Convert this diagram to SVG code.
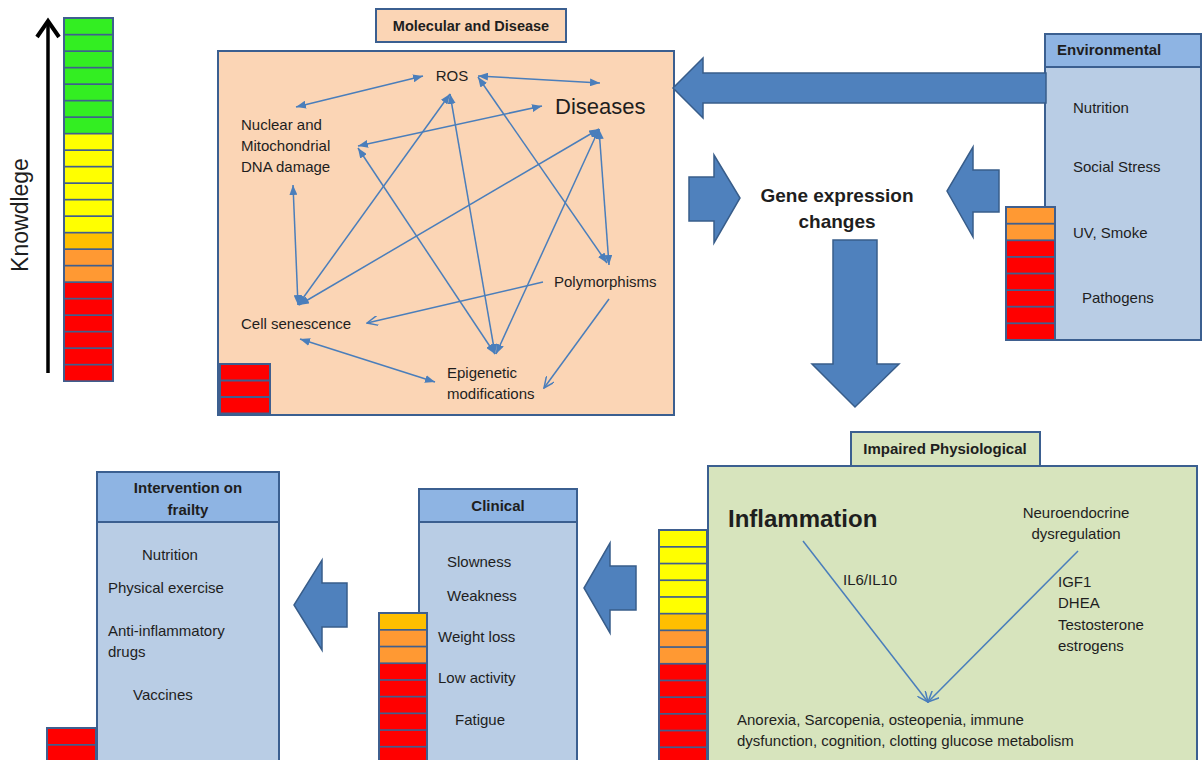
<svg xmlns="http://www.w3.org/2000/svg" width="1203" height="760" viewBox="0 0 1203 760">
<defs>
<style>
text{font-family:"Liberation Sans",Arial,sans-serif;fill:#1e1e1e;font-size:15px}
.b{font-weight:bold}
.c{text-anchor:middle}
.box{stroke:#3b5f90;stroke-width:2}
.peach{fill:#fbd5b5}
.hdr{fill:#8eb4e3}
.body{fill:#b9cde5}
.grn{fill:#d7e4bd}
.blk{fill:#4f81bd;stroke:#385d8a;stroke-width:1.5}
.con{stroke:#4a7ebb;stroke-width:1.5;fill:none}
.bar{fill:#3f5f8f}
.G{fill:#33ee22}.Y{fill:#ffff00}.O1{fill:#ffbf00}.O{fill:#ff9933}.R{fill:#ff0000}
</style>
<marker id="ah" viewBox="0 0 10 8" refX="10" refY="4" markerWidth="10" markerHeight="8" markerUnits="userSpaceOnUse" orient="auto-start-reverse"><path d="M0,0 L10,4 L0,8 z" fill="#4a7ebb"/></marker>
<marker id="oh" viewBox="0 0 12 10" refX="11" refY="5" markerWidth="12" markerHeight="10" markerUnits="userSpaceOnUse" orient="auto"><path d="M0,0 L11,5 L0,10" fill="none" stroke="#4a7ebb" stroke-width="1.5"/></marker>
</defs>

<g id="knowledge-scale">
<line x1="48" y1="373" x2="48" y2="24" stroke="#000" stroke-width="3.5"/>
<polyline points="37,37 48,21 59,37" fill="none" stroke="#000" stroke-width="4"/>
<text x="0" y="0" transform="translate(28,215) rotate(-90)" class="c" style="font-size:23px">Knowdlege</text>
<rect class="bar" x="63" y="17" width="51" height="365"/>
<g>
<rect class="G" x="65" y="19" width="47" height="14.8"/>
<rect class="G" x="65" y="35.5" width="47" height="14.8"/>
<rect class="G" x="65" y="52" width="47" height="14.8"/>
<rect class="G" x="65" y="68.5" width="47" height="14.8"/>
<rect class="G" x="65" y="85" width="47" height="14.8"/>
<rect class="G" x="65" y="101.5" width="47" height="14.8"/>
<rect class="G" x="65" y="118" width="47" height="14.8"/>
<rect class="Y" x="65" y="134.5" width="47" height="14.8"/>
<rect class="Y" x="65" y="151" width="47" height="14.8"/>
<rect class="Y" x="65" y="167.5" width="47" height="14.8"/>
<rect class="Y" x="65" y="184" width="47" height="14.8"/>
<rect class="Y" x="65" y="200.5" width="47" height="14.8"/>
<rect class="Y" x="65" y="217" width="47" height="14.8"/>
<rect class="O1" x="65" y="233.5" width="47" height="14.8"/>
<rect class="O" x="65" y="250" width="47" height="14.8"/>
<rect class="O" x="65" y="266.5" width="47" height="14.8"/>
<rect class="R" x="65" y="283" width="47" height="14.8"/>
<rect class="R" x="65" y="299.5" width="47" height="14.8"/>
<rect class="R" x="65" y="316" width="47" height="14.8"/>
<rect class="R" x="65" y="332.5" width="47" height="14.8"/>
<rect class="R" x="65" y="349" width="47" height="14.8"/>
<rect class="R" x="65" y="365.5" width="47" height="14.8"/>
</g>
</g>

<g id="molecular">
<rect class="box peach" x="376" y="9" width="190" height="33"/>
<text x="471" y="31" class="b c" style="font-size:14.5px">Molecular and Disease</text>
<rect class="box peach" x="218" y="51" width="456" height="364"/>
<rect class="bar" x="218" y="363" width="53" height="51"/>
<rect class="R" x="221" y="365" width="48" height="14.5"/>
<rect class="R" x="221" y="381.5" width="48" height="14.5"/>
<rect class="R" x="221" y="398" width="48" height="14.5"/>
</g>

<g id="node-ros"><text x="452" y="81" class="c">ROS</text></g>
<g id="node-diseases"><text x="555" y="114" style="font-size:22px">Diseases</text></g>
<g id="node-dna"><text x="241" y="130">Nuclear and</text><text x="241" y="151">Mitochondrial</text><text x="241" y="172">DNA damage</text></g>
<g id="node-polymorphisms"><text x="554" y="287">Polymorphisms</text></g>
<g id="node-cellsen"><text x="241" y="329">Cell senescence</text></g>
<g id="node-epigenetic"><text x="447" y="378">Epigenetic</text><text x="447" y="399">modifications</text></g>

<g id="gene-expression">
<text x="837" y="202" class="b c" style="font-size:19px">Gene expression</text>
<text x="837" y="228" class="b c" style="font-size:19px">changes</text>
</g>

<g id="environmental">
<rect class="box hdr" x="1045" y="34" width="156" height="33"/>
<text x="1057" y="55" class="b">Environmental</text>
<rect class="box body" x="1045" y="67" width="156" height="273"/>
<text x="1073" y="113">Nutrition</text>
<text x="1073" y="172">Social Stress</text>
<text x="1073" y="238">UV, Smoke</text>
<text x="1082" y="303">Pathogens</text>
<rect class="bar" x="1005" y="206" width="51" height="135"/>
<rect class="O" x="1007" y="208" width="47" height="14.8"/>
<rect class="O" x="1007" y="224.6" width="47" height="14.8"/>
<rect class="R" x="1007" y="241.2" width="47" height="14.8"/>
<rect class="R" x="1007" y="257.8" width="47" height="14.8"/>
<rect class="R" x="1007" y="274.4" width="47" height="14.8"/>
<rect class="R" x="1007" y="291" width="47" height="14.8"/>
<rect class="R" x="1007" y="307.6" width="47" height="14.8"/>
<rect class="R" x="1007" y="324.2" width="47" height="14.8"/>
</g>

<g id="impaired">
<rect class="box grn" x="851" y="432" width="189" height="34"/>
<text x="945" y="454" class="b c">Impaired Physiological</text>
<rect class="box grn" x="708" y="466" width="489" height="310"/>
<text x="728" y="527" class="b" style="font-size:24px">Inflammation</text>
<text x="1076" y="518" class="c">Neuroendocrine</text>
<text x="1076" y="539" class="c">dysregulation</text>
<text x="843" y="585">IL6/IL10</text>
<text x="1058" y="587">IGF1</text>
<text x="1058" y="608">DHEA</text>
<text x="1058" y="630">Testosterone</text>
<text x="1058" y="651">estrogens</text>
<text x="737" y="725">Anorexia, Sarcopenia, osteopenia,  immune</text>
<text x="737" y="746">dysfunction, cognition, clotting glucose metabolism</text>
<rect class="bar" x="658" y="529" width="50" height="240"/>
<rect class="Y" x="660" y="531" width="46" height="15"/>
<rect class="Y" x="660" y="547.7" width="46" height="15"/>
<rect class="Y" x="660" y="564.4" width="46" height="15"/>
<rect class="Y" x="660" y="581.1" width="46" height="15"/>
<rect class="Y" x="660" y="597.8" width="46" height="15"/>
<rect class="O1" x="660" y="614.5" width="46" height="15"/>
<rect class="O" x="660" y="631.2" width="46" height="15"/>
<rect class="O" x="660" y="647.9" width="46" height="15"/>
<rect class="R" x="660" y="664.6" width="46" height="15"/>
<rect class="R" x="660" y="681.3" width="46" height="15"/>
<rect class="R" x="660" y="698" width="46" height="15"/>
<rect class="R" x="660" y="714.7" width="46" height="15"/>
<rect class="R" x="660" y="731.4" width="46" height="15"/>
<rect class="R" x="660" y="748.1" width="46" height="15"/>
</g>

<g id="clinical">
<rect class="box hdr" x="419" y="489" width="158" height="33"/>
<text x="498" y="511" class="b c">Clinical</text>
<rect class="box body" x="419" y="522" width="158" height="250"/>
<text x="447" y="567">Slowness</text>
<text x="447" y="601">Weakness</text>
<text x="438" y="642">Weight loss</text>
<text x="438" y="683">Low activity</text>
<text x="455" y="725">Fatigue</text>
<rect class="bar" x="378" y="612" width="50" height="160"/>
<rect class="O1" x="380" y="614" width="46" height="15"/>
<rect class="O" x="380" y="630.7" width="46" height="15"/>
<rect class="O" x="380" y="647.4" width="46" height="15"/>
<rect class="R" x="380" y="664.1" width="46" height="15"/>
<rect class="R" x="380" y="680.8" width="46" height="15"/>
<rect class="R" x="380" y="697.5" width="46" height="15"/>
<rect class="R" x="380" y="714.2" width="46" height="15"/>
<rect class="R" x="380" y="730.9" width="46" height="15"/>
<rect class="R" x="380" y="747.6" width="46" height="15"/>
</g>

<g id="intervention">
<rect class="box hdr" x="97" y="472" width="182" height="50"/>
<text x="188" y="493" class="b c">Intervention on</text>
<text x="188" y="515" class="b c">frailty</text>
<rect class="box body" x="97" y="522" width="182" height="250"/>
<text x="142" y="560">Nutrition</text>
<text x="108" y="593">Physical exercise</text>
<text x="108" y="636">Anti-inflammatory</text>
<text x="108" y="657">drugs</text>
<text x="133" y="700">Vaccines</text>
<rect class="bar" x="46" y="727" width="51" height="40"/>
<rect class="R" x="48" y="729" width="47" height="15"/>
<rect class="R" x="48" y="745.7" width="47" height="15"/>
</g>

<g id="connectors">
<line class="con" x1="296" y1="107" x2="423" y2="76" marker-start="url(#ah)" marker-end="url(#ah)"/>
<line class="con" x1="478" y1="76" x2="600" y2="83" marker-start="url(#ah)" marker-end="url(#ah)"/>
<line class="con" x1="542" y1="106" x2="358" y2="146" marker-start="url(#ah)" marker-end="url(#ah)"/>
<line class="con" x1="293" y1="185" x2="298" y2="305" marker-start="url(#ah)" marker-end="url(#ah)"/>
<line class="con" x1="450" y1="94" x2="298" y2="305" marker-start="url(#ah)" marker-end="url(#ah)"/>
<line class="con" x1="450" y1="94" x2="495" y2="354" marker-start="url(#ah)" marker-end="url(#ah)"/>
<line class="con" x1="599" y1="129" x2="299" y2="305" marker-start="url(#ah)" marker-end="url(#ah)"/>
<line class="con" x1="599" y1="129" x2="496" y2="354" marker-start="url(#ah)" marker-end="url(#ah)"/>
<line class="con" x1="599" y1="129" x2="609" y2="265" marker-start="url(#ah)" marker-end="url(#ah)"/>
<line class="con" x1="478" y1="77" x2="607" y2="263" marker-start="url(#ah)" marker-end="url(#ah)"/>
<line class="con" x1="358" y1="148" x2="495" y2="354" marker-start="url(#ah)" marker-end="url(#ah)"/>
<line class="con" x1="543" y1="282" x2="367" y2="323" marker-end="url(#oh)"/>
<line class="con" x1="300" y1="339" x2="435" y2="382" marker-start="url(#ah)" marker-end="url(#ah)"/>
<line class="con" x1="609" y1="299" x2="544" y2="388" marker-end="url(#oh)"/>
<line class="con" x1="803" y1="541" x2="928" y2="702" marker-end="url(#oh)"/>
<line class="con" x1="1078" y1="551" x2="928" y2="702" marker-end="url(#oh)"/>
<polygon class="blk" points="673,88 703,58 703,73 1046,73 1046,103 703,103 703,118"/>
<polygon class="blk" points="689,177 714,177 714,155 740,198 714,243 714,221 689,221"/>
<polygon class="blk" points="999,170 973,170 973,147 947,191 973,237 973,212 999,212"/>
<polygon class="blk" points="833,240 877,240 877,364 899,364 855,407 812,364 833,364"/>
<polygon class="blk" points="636,566 610,566 610,543 584,588 610,633 610,610 636,610"/>
<polygon class="blk" points="347,583 322,583 322,560 294,605 322,650 322,627 347,627"/>
</g>
</svg>
